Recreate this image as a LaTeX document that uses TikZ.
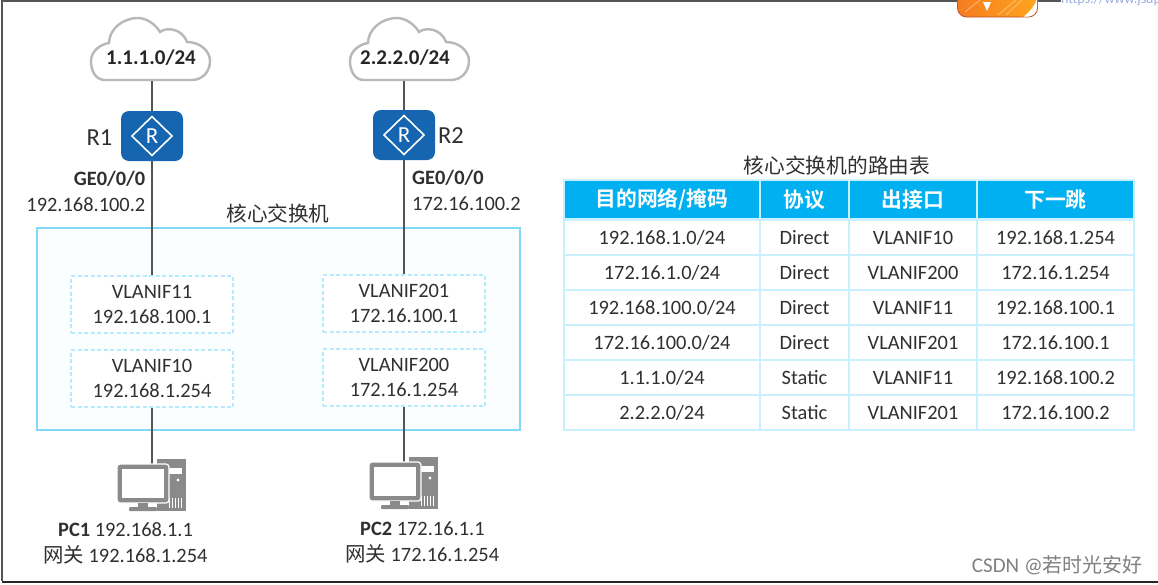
\documentclass[tikz,border=0pt]{standalone}
\usepackage{fontspec}
\setmainfont{Carlito}
\newfontfamily\cjk{Noto Sans CJK SC}
\newfontfamily\cjkb{Noto Sans CJK SC Bold}
\definecolor{txt}{HTML}{303030}
\definecolor{frameblue}{HTML}{7FD9F7}
\definecolor{palefill}{HTML}{FAFEFF}
\definecolor{dashblue}{HTML}{B5EBFC}
\definecolor{routerblue}{HTML}{1565B0}
\definecolor{headblue}{HTML}{00B0F0}
\definecolor{cellline}{HTML}{C8F0FD}
\definecolor{iconGray}{HTML}{8A8A8A}
\definecolor{cloudGray}{HTML}{B8B8B8}
\definecolor{lineGray}{HTML}{555555}
\definecolor{badgeA}{HTML}{F57C1F}
\definecolor{badgeB}{HTML}{FFA51E}
\definecolor{badgeEdge}{HTML}{B5552E}
\tikzset{
 x=1pt,y=-1pt,
 lbl/.style={inner sep=0pt,font=\fontsize{20.4}{24}\selectfont,text=txt,align=center},
 lblb/.style={lbl,font=\fontsize{20.4}{24}\selectfont\bfseries},
 link/.style={draw=lineGray,line width=1.4pt},
 cloudshape/.style={draw=cloudGray,line width=2.4pt,fill=white},
 cloudlbl/.style={inner sep=0pt,font=\fontsize{21}{24}\selectfont\bfseries,text=black!85},
 router/.style={fill=routerblue,rounded corners=8pt,minimum width=62pt,minimum height=50pt,inner sep=0pt},
 vif/.style={draw=dashblue,line width=1.1pt,dashed,dash pattern=on 4pt off 2.5pt,fill=white,minimum width=162pt,minimum height=57pt,inner sep=0pt,align=center,font=\fontsize{20.4}{25}\selectfont,text=txt},
 tc/.style={draw=cellline,line width=1.2pt,fill=white,inner sep=0pt,minimum height=35pt,font=\fontsize{20.4}{24}\selectfont,text=txt},
 th/.style={draw=cellline,line width=1.2pt,fill=headblue,inner sep=0pt,minimum height=39pt,font=\fontsize{20.8}{24}\cjkb\selectfont,text=white},
 c1/.style={minimum width=196pt},
 c2/.style={minimum width=89pt},
 c3/.style={minimum width=128pt},
 c4/.style={minimum width=157pt},
}
\newcommand{\cloudpath}[1]{%
 \draw[cloudshape,shift={(#1,50)}] (-45,30) .. controls (-55,30) and (-59,20) .. (-59,11) .. controls (-59,0) and (-48,-6) .. (-41,-7) .. controls (-41,-20) and (-28,-32) .. (-12,-32) .. controls (-3,-32) and (6,-25) .. (10,-18) .. controls (16,-23) and (32,-22) .. (37,-8) .. controls (50,-8) and (60,1) .. (60,11) .. controls (60,22) and (52,30) .. (42,30) -- cycle;}
\newcommand{\rdiamond}[2]{%
 \draw[white,line width=1.6pt,shift={(#1,#2)}] (0,-19.5) -- (20,0) -- (0,19.5) -- (-20,0) -- cycle;
 \node[inner sep=0pt,text=white,font=\fontsize{23}{24}\selectfont] at (#1,#2) {R};}
\newcommand{\pcicon}[2]{%
 \begin{scope}[shift={(#1,#2)}]
  \fill[iconGray] (40,-5) rectangle (69,47);
  \fill[white] (51,4) rectangle (65,10);
  \fill[white] (61,16) circle (1.6);
  \foreach \xx in {52,55,58,61,64} \fill[white] (\xx,34) rectangle ++(1.2,10);
  \fill[iconGray,draw=white,line width=1.2pt,rounded corners=3pt] (0,0) rectangle (52,39);
  \fill[white] (5,5) rectangle (47,34);
  \fill[iconGray] (21,39) rectangle (31,43);
  \fill[iconGray,rounded corners=1pt] (12,43) rectangle (40,47);
 \end{scope}}
\begin{document}
\begin{tikzpicture}
\useasboundingbox (0,0) rectangle (1158,584);
\fill[white] (0,0) rectangle (1158,584);
% window frame
\draw[lineGray,line width=1.3pt] (1061,1) -- (2,1) -- (2,581);
\draw[black!85,line width=2pt] (2,581.5) -- (1158,581.5);
% badge and clipped link
\begin{scope}
 \clip (950,0) rectangle (1045,19);
 \draw[badgeEdge,line width=0.8pt,left color=badgeA,right color=badgeB,rounded corners=9pt] (957.5,-15) -- (957.5,17) -- (1037.5,17) -- (1037.5,-15) -- cycle;
 \clip[rounded corners=9pt] (958,-15) -- (958,16.6) -- (1037,16.6) -- (1037,-15) -- cycle;
 \fill[white] (1023,17) .. controls (1031,11) and (1035,5) .. (1037,-1) -- (1038,17) -- cycle;
 \draw[white,opacity=.35,line width=1pt] (965,12) -- (980,0) (998,15) -- (1016,0) (1006,15) -- (1022,0);
 \fill[white] (983,2) -- (991,2) -- (987,11) -- cycle;
\end{scope}
\begin{scope}
 \clip (1060,0) rectangle (1158,5);
 \node[anchor=west,inner sep=0pt,text=cyan!40!blue!40,font=\fontsize{14}{16}\selectfont] (urlclip) at (1061,0) {https://www.jsdp};
\end{scope}
% core switch box
\node[draw=frameblue,line width=2pt,fill=palefill,minimum width=483pt,minimum height=202pt,inner sep=0pt] (core) at (278.5,329) {};
\node[lbl,font=\fontsize{20.6}{24}\cjk\selectfont] (corelbl) at (278,214) {核心交换机};
% clouds
\cloudpath{150}
\cloudpath{409}
\node[cloudlbl] (c1) at (151,58) {1.1.1.0/24};
\node[cloudlbl] (c2) at (405,58) {2.2.2.0/24};
\coordinate (c1b) at (152,81);
\coordinate (c2b) at (404,81);
% routers
\node[router] (r1) at (152,136) {};
\node[router] (r2) at (404,135) {};
% interfaces
\node[vif] (v11) at (152,304.5) {VLANIF11\\192.168.100.1};
\node[vif] (v10) at (152,378.5) {VLANIF10\\192.168.1.254};
\node[vif] (v201) at (404,303.5) {VLANIF201\\172.16.100.1};
\node[vif] (v200) at (404,377.5) {VLANIF200\\172.16.1.254};
\coordinate (p1) at (152,464);
\coordinate (p2) at (404,462);
\draw[link] (c1b) -- (r1.north);
\draw[link] (c2b) -- (r2.north);
\draw[link] (r1.south) -- (v11.north);
\draw[link] (r2.south) -- (v201.north);
\draw[link] (v10.south) -- (p1);
\draw[link] (v200.south) -- (p2);
\rdiamond{152}{136}
\rdiamond{404}{135}
\node[lbl,font=\fontsize{24.5}{26}\selectfont] (r1l) at (99.5,138) {R1};
\node[lbl,font=\fontsize{24.5}{26}\selectfont] (r2l) at (451,136) {R2};
\node[lblb,anchor=east] (g1) at (145.5,179) {GE0/0/0};
\node[lbl,anchor=east] (i1) at (145.5,204.5) {192.168.100.2};
\node[lblb,anchor=west] (g2) at (412,178) {GE0/0/0};
\node[lbl,anchor=west] (i2) at (412,203.5) {172.16.100.2};
% PCs
\pcicon{117}{464}
\pcicon{369}{462}
\node[lbl,anchor=west] (pc1a) at (58,530) {\textbf{PC1} 192.168.1.1};
\node[lbl,anchor=west] (pc1b) at (43,555) {{\cjk 网关} 192.168.1.254};
\node[lbl,anchor=west] (pc2a) at (360,529) {\textbf{PC2} 172.16.1.1};
\node[lbl,anchor=west] (pc2b) at (345,554) {{\cjk 网关} 172.16.1.254};
% table
\node[lbl,font=\fontsize{20.7}{24}\cjk\selectfont] (tt) at (837,166) {核心交换机的路由表};
\def\rowA#1#2#3#4#5#6{%
 \node[tc,c1] (t#1a) at (662,#2) {#3};
 \node[tc,c2] (t#1b) at (804.5,#2) {#4};
 \node[tc,c3] (t#1c) at (913,#2) {#5};
 \node[tc,c4] (t#1d) at (1055.5,#2) {#6};}
\node[th,c1] (h1) at (662,199.5) {目的网络/掩码};
\node[th,c2] (h2) at (804.5,199.5) {协议};
\node[th,c3] (h3) at (913,199.5) {出接口};
\node[th,c4] (h4) at (1055.5,199.5) {下一跳};
\rowA{1}{237.5}{192.168.1.0/24}{Direct}{VLANIF10}{192.168.1.254}
\rowA{2}{272.5}{172.16.1.0/24}{Direct}{VLANIF200}{172.16.1.254}
\rowA{3}{307.5}{192.168.100.0/24}{Direct}{VLANIF11}{192.168.100.1}
\rowA{4}{342.5}{172.16.100.0/24}{Direct}{VLANIF201}{172.16.100.1}
\rowA{5}{377.5}{1.1.1.0/24}{Static}{VLANIF11}{192.168.100.2}
\rowA{6}{412.5}{2.2.2.0/24}{Static}{VLANIF201}{172.16.100.2}
% watermark
\node[anchor=east,inner sep=0pt,text=black!50,font=\fontsize{21}{22}\selectfont] (wm) at (1143,565) {CSDN @{\fontsize{20}{22}\cjk 若时光安好}};
\end{tikzpicture}
\end{document}
